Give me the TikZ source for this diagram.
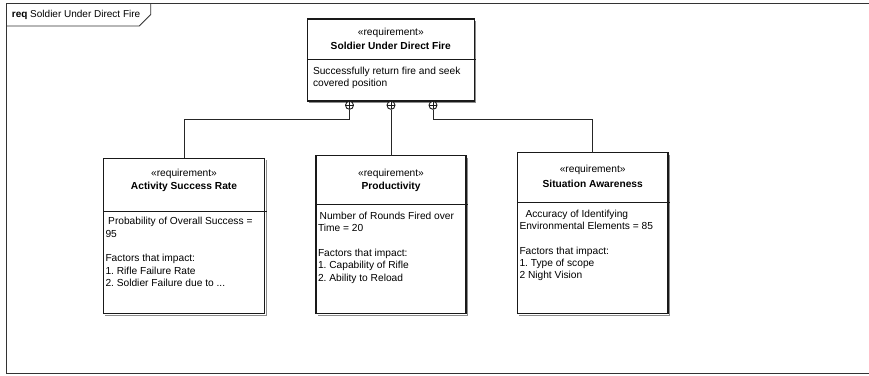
\documentclass[tikz,border=0pt]{standalone}
\usepackage{fontspec}
\setmainfont{Liberation Sans}
\frenchspacing
\begin{document}
\begin{tikzpicture}[x=1pt,y=-1pt,
  frame/.style={draw=black!80, line width=0.8pt},
  reqbox/.style={rectangle, draw=black!90, line width=1.1pt, fill=white,
    inner sep=0pt, outer sep=0pt, anchor=north west},
  shadow/.style={draw=black!45, line width=1pt},
  divider/.style={draw=black!90, line width=1pt},
  stereo/.style={inner sep=0pt, font=\fontsize{10.2}{12.3}\selectfont},
  reqtitle/.style={inner sep=0pt, font=\fontsize{10.2}{12.3}\selectfont\bfseries},
  body/.style={inner sep=0pt, anchor=north west, align=left,
    font=\fontsize{10.2}{12.3}\selectfont},
  conn/.style={draw=black!85, line width=0.9pt},
  containment/.style={circle, draw=black!90, line width=0.9pt, fill=white,
    minimum size=8pt, inner sep=0pt,
    path picture={\draw[line width=0.8pt]
      (path picture bounding box.north) -- (path picture bounding box.south)
      (path picture bounding box.west) -- (path picture bounding box.east);}}]

\useasboundingbox (0,0) rectangle (869,375);

% diagram frame with its name tab
\draw[frame] (6,3) rectangle (875,373);
\draw[frame] (6,26) -- (139.3,26) -- (150.7,14.6) -- (150.7,3);
\node[anchor=west, inner sep=0pt, font=\fontsize{10}{12}\selectfont] (frameName)
  at (11.7,15) {\textbf{req} Soldier Under Direct Fire};

% ---------- top requirement ----------
\draw[shadow] (475.8,21) -- (475.8,102.5) -- (309,102.5);
\node[reqbox, minimum width=167pt, minimum height=82pt] (top) at (307.3,19) {};
\draw[divider] (top.west |- 0,59) -- (476.3,59);
\node[stereo] (topSt) at (390.8,33.3) {«requirement»};
\node[reqtitle] (topTitle) at (390.8,46) {Soldier Under Direct Fire};
\node[body, font=\fontsize{10.2}{11.8}\selectfont] (topBody) at (312.8,67.3)
  {Successfully return fire and seek\\covered position};

% ---------- left requirement ----------
\draw[shadow] (266.2,160) -- (266.2,315.2) -- (105,315.2);
\node[reqbox, minimum width=161.4pt, minimum height=155.4pt] (asr) at (103.3,158.3) {};
\draw[divider] (asr.west |- 0,211) -- (266.7,211);
\node[stereo] (asrSt) at (184,174.3) {«requirement»};
\node[reqtitle] (asrTitle) at (184,186.5) {Activity Success Rate};
\node[body] (asrBody) at (105.3,217.3)
  {\hspace{2.7pt}Probability of Overall Success =\\95\\[12.3pt]Factors that impact:\\1. Rifle Failure Rate\\2. Soldier Failure due to ...};

% ---------- middle requirement ----------
\draw[shadow] (467.5,157.5) -- (467.5,315.2) -- (318,315.2);
\node[reqbox, minimum width=150pt, minimum height=158pt] (prod) at (316,155.7) {};
\draw[divider] (prod.west |- 0,204) -- (468,204);
\node[stereo] (prodSt) at (391,174) {«requirement»};
\node[reqtitle] (prodTitle) at (391,186.7) {Productivity};
\node[body] (prodBody) at (317.8,212)
  {\hspace{1.7pt}Number of Rounds Fired over\\Time = 20\\[12.3pt]Factors that impact:\\1. Capability of Rifle\\2. Ability to Reload};

% ---------- right requirement ----------
\draw[shadow] (669.5,154.5) -- (669.5,315.2) -- (519,315.2);
\node[reqbox, minimum width=150.7pt, minimum height=161pt] (sa) at (517.3,152.7) {};
\draw[divider] (sa.west |- 0,202) -- (670,202);
\node[stereo] (saSt) at (592.7,170.3) {«requirement»};
\node[reqtitle] (saTitle) at (592.7,183.5) {Situation Awareness};
\node[body] (saBody) at (519.3,209.6)
  {\hspace{6pt}Accuracy of Identifying\\Environmental Elements = 85\\[12.3pt]Factors that impact:\\1. Type of scope\\2 Night Vision};

% ---------- containment connectors ----------
\coordinate (busY) at (0,119.3);
\node[containment] (c1) at (349.5,105.3) {};
\node[containment] (c2) at (391,105.3) {};
\node[containment] (c3) at (433,105.3) {};
\draw[conn] (c1.south) -- (c1.south |- busY) -| (asr.north);
\draw[conn] (c2.south) -- (prod.north);
\draw[conn] (c3.south) -- (c3.south |- busY) -| (sa.north);

\end{tikzpicture}
\end{document}
